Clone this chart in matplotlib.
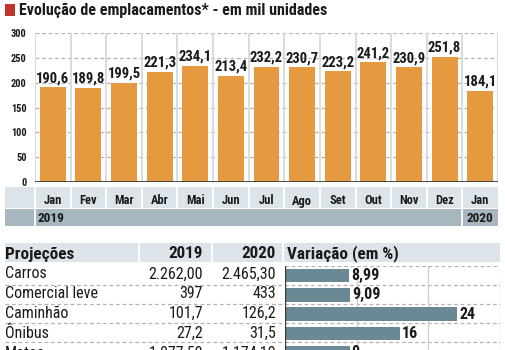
import matplotlib
matplotlib.use("Agg")
import matplotlib.pyplot as plt
from matplotlib.patches import Rectangle
from matplotlib.transforms import blended_transform_factory
from matplotlib import font_manager
from matplotlib.font_manager import FontProperties

# ---------------- data ----------------
months = ["Jan", "Fev", "Mar", "Abr", "Mai", "Jun", "Jul", "Ago", "Set", "Out", "Nov", "Dez", "Jan"]
emplacamentos = [190.6, 189.8, 199.5, 221.3, 234.1, 213.4, 232.2, 230.7, 223.2, 241.2, 230.9, 251.8, 184.1]
years = ["2019", "2020"]
y_ticks = [0, 50, 100, 150, 200, 250, 300]

title = "Evolução de emplacamentos* - em mil unidades"
table_header = ["Projeções", "2019", "2020", "Variação (em %)"]
categorias = ["Carros", "Comercial leve", "Caminhão", "Ônibus", "Motos"]
proj_2019 = ["2.262,00", "397", "101,7", "27,2", "1.077,50"]
proj_2020 = ["2.465,30", "433", "126,2", "31,5", "1.174,10"]
variacao = [8.99, 9.09, 24, 16, 9]
variacao_lbl = ["8,99", "9,09", "24", "16", "9"]

# ---------------- fonts: look for a condensed face ----------------
def _wt(w):
    try:
        return int(w)
    except Exception:
        return {"normal": 400, "regular": 400, "book": 400, "medium": 500,
                "semibold": 600, "demibold": 600, "bold": 700, "heavy": 800, "black": 900}.get(str(w), 400)

cond = {}
for f in font_manager.fontManager.ttflist:
    st = str(f.stretch)
    is_cond = ("Narrow" in f.name or "Condensed" in f.name or st in ("condensed", "semi-condensed", "extra-condensed", "ultra-condensed"))
    if not is_cond or f.style != "normal":
        continue
    d = cond.setdefault(f.name, {})
    w = _wt(f.weight)
    if w <= 450 and "reg" not in d:
        d["reg"] = f.fname
    if 650 <= w <= 750 and "bold" not in d:
        d["bold"] = f.fname

pref = ["Liberation Sans Narrow", "Roboto Condensed", "Open Sans Condensed", "Noto Sans", "DejaVu Sans", "Noto Sans Condensed"]
chosen = None
for p in pref:
    if p in cond and "reg" in cond[p] and "bold" in cond[p]:
        chosen = cond[p]
        break
if chosen is None:
    for k, v in cond.items():
        if "reg" in v and "bold" in v:
            chosen = v
            break

if chosen is not None:
    FP_REG = FontProperties(fname=chosen["reg"])
    FP_BOLD = FontProperties(fname=chosen["bold"])
    SC = 1.0
else:
    FP_REG = FontProperties(family=["Liberation Sans", "DejaVu Sans"])
    FP_BOLD = FontProperties(family=["Liberation Sans", "DejaVu Sans"], weight="bold")
    SC = 0.86


def fp(bold, size):
    p = (FP_BOLD if bold else FP_REG).copy()
    p.set_size(size * SC)
    return p


ORANGE = "#E69A40"
SLATE = "#6B8995"
BAND_LIGHT = "#DCE4E9"
BAND_DARK = "#A6B7BE"
TXT = "#1a1a1a"
GRID = "#b3b3b3"
W, H = 505, 350

fig = plt.figure(figsize=(W / 100, H / 100), dpi=100)


def fr(x0, y0, x1, y1):
    return [x0 / W, 1 - y1 / H, (x1 - x0) / W, (y1 - y0) / H]


# overlay in pixel coordinates for decorations
ov = fig.add_axes([0, 0, 1, 1], zorder=0)
ov.set_xlim(0, W)
ov.set_ylim(H, 0)
ov.axis("off")

# title
ov.add_patch(Rectangle((5, 4), 10, 12, color="#C0342B", lw=0))
ov.text(19, 15, title, fontproperties=fp(True, 11.5), color=TXT, va="baseline", ha="left")

# ---------------- bar chart ----------------
x0, x1 = 35, 498
ax = fig.add_axes(fr(x0, 33, x1, 182), zorder=1)
ax.patch.set_alpha(0)
n = len(months)
xs = list(range(n))
ax.set_xlim(-0.5, n - 0.5)
ax.set_ylim(0, 300)
for s in ax.spines.values():
    s.set_visible(False)

for yv in y_ticks[1:]:
    ax.axhline(yv, color=GRID, lw=0.9, ls=(0, (3, 2.2)), zorder=0)
for k in range(n + 1):
    ax.axvline(k - 0.5, color="#d6d6d6", lw=1.2, zorder=0.5)

ax.bar(xs, emplacamentos, width=0.73, color=ORANGE, zorder=2)
ax.axhline(0, color="#3a3a3a", lw=1.3, zorder=3)
for xi, v in zip(xs, emplacamentos):
    ax.annotate(f"{v:.1f}".replace(".", ","), (xi, v), xytext=(0, 1.5), textcoords="offset points",
                ha="center", va="bottom", fontproperties=fp(True, 10.5), color=TXT)

ax.set_yticks(y_ticks)
ax.set_yticklabels([str(t) for t in y_ticks])
for t in ax.get_yticklabels():
    t.set_fontproperties(fp(True, 7.5))
    t.set_color(TXT)
ax.tick_params(axis="y", length=0, pad=6)
ax.set_xticks(xs)
ax.set_xticklabels(months)
for t in ax.get_xticklabels():
    t.set_fontproperties(fp(True, 9))
    t.set_color(TXT)
ax.tick_params(axis="x", length=0, pad=9)

# month / year bands
col_w = (x1 - x0) / n
ov.add_patch(Rectangle((5, 187), x1 - 5, 21, color=BAND_LIGHT, lw=0))
ov.add_patch(Rectangle((5, 209), x1 - 5, 17, color=BAND_DARK, lw=0))
for k in range(n):
    xb = x0 + k * col_w
    ov.plot([xb, xb], [187, 208], color="white", lw=1.3)
ov.plot([x0, x0], [209, 226], color="white", lw=1.3)
xb = x0 + (n - 1) * col_w
ov.plot([xb, xb], [209, 226], color="white", lw=1.3)
ov.text(x0 + 2, 218, years[0], fontproperties=fp(True, 9.5), color=TXT, va="center", ha="left")
ov.text(x0 + (n - 0.5) * col_w, 218, years[1], fontproperties=fp(True, 9.5), color=TXT, va="center", ha="center")

# ---------------- projections table ----------------
ov.add_patch(Rectangle((5, 243), 495, 19, color=BAND_LIGHT, lw=0))
for xs_ in (139, 212, 283):
    ov.plot([xs_, xs_], [243, 262], color="white", lw=1.3)
hb = 258.5
ov.text(5, hb, table_header[0], fontproperties=fp(True, 12.3), color=TXT, va="baseline", ha="left")
ov.text(203, hb, table_header[1], fontproperties=fp(True, 12.3), color=TXT, va="baseline", ha="right")
ov.text(276, hb, table_header[2], fontproperties=fp(True, 12.3), color=TXT, va="baseline", ha="right")
ov.text(287, hb, table_header[3], fontproperties=fp(True, 12.3), color=TXT, va="baseline", ha="left")

# variation bars axes
row0, pitch = 275.7, 19.2
bx0, bx1, by0, by1 = 285, 500, 265.5, 350
ax2 = fig.add_axes(fr(bx0, by0, bx1, by1), zorder=1)
ax2.patch.set_alpha(0)
ax2.set_xlim(0, 30)
ax2.set_ylim((by1 - row0) / pitch, (by0 - row0) / pitch)
for s in ax2.spines.values():
    s.set_visible(False)
ax2.set_xticks([])
ax2.set_yticks([])
rows = list(range(len(categorias)))
for xv in (10, 20):
    ax2.axvline(xv, color="#cfcfcf", lw=1, zorder=0)
ax2.axvline(30, color=GRID, lw=0.9, ls=(0, (3, 2.2)), zorder=0)
ax2.axvline(0, color="#3a3a3a", lw=1.0, zorder=3)
ax2.axhline((by0 - row0) / pitch + 0.03, color=GRID, lw=0.9, ls=(0, (3, 2.2)), zorder=0)
ax2.barh(rows, variacao, height=0.69, color=SLATE, zorder=2)
for r, v, lb in zip(rows, variacao, variacao_lbl):
    ax2.annotate(lb, (v, r), xytext=(1.5, 0), textcoords="offset points", ha="left",
                 va="center", fontproperties=fp(True, 11.5), color=TXT, annotation_clip=False)

# row separators (across the whole table)
tr = blended_transform_factory(ov.transData, ax2.transData)
for r in rows[:-1]:
    ov.plot([5, 500], [r + 0.46, r + 0.46], transform=tr, color=GRID, lw=0.9, ls=(0, (3, 2.2)))

# row text (baselines step slightly wider than the bars, as in the original)
text_base, text_pitch = 278.5, 19.8
for r, c, a, b in zip(rows, categorias, proj_2019, proj_2020):
    yb = text_base + text_pitch * r
    ov.text(5, yb, c, fontproperties=fp(False, 11.5), color=TXT, va="baseline", ha="left")
    ov.text(203, yb, a, fontproperties=fp(False, 11.5), color=TXT, va="baseline", ha="right")
    ov.text(276, yb, b, fontproperties=fp(False, 11.5), color=TXT, va="baseline", ha="right")

fig.savefig("out.png", dpi=100, facecolor="white")
